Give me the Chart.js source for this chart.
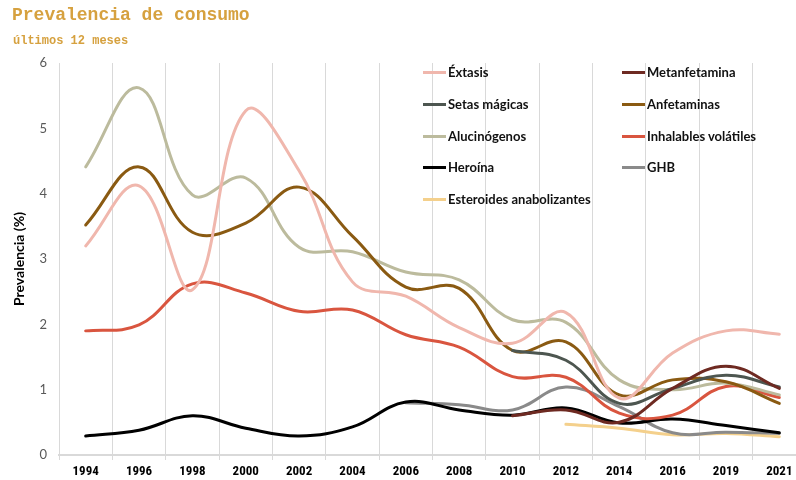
<!DOCTYPE html>
<html>
<head>
<meta charset="utf-8">
<script src="https://cdn.jsdelivr.net/npm/chart.js@4.4.1/dist/chart.umd.min.js"></script>
<style>
  html, body { margin: 0; padding: 0; background: #ffffff; overflow: hidden; width: 796px; height: 480px; }
  #wrap { position: relative; width: 796px; height: 480px; overflow: hidden; }
  canvas { position: absolute; left: 0; top: 0; }
  #title { position: absolute; left: 12px; top: 5px; font-family: 'Liberation Mono', 'DejaVu Sans Mono', monospace; font-weight: bold; font-size: 18px; color: #d6a13f; white-space: nowrap; }
  #subtitle { position: absolute; left: 13px; top: 34px; font-family: 'Liberation Mono', 'DejaVu Sans Mono', monospace; font-weight: bold; font-size: 12px; color: #d6a13f; white-space: nowrap; }
  .lg { position: absolute; height: 16px; font-family: Lato, 'Open Sans', sans-serif; font-weight: bold; font-size: 13px; color: #111; white-space: nowrap; line-height: 16px; }
  .lg span.sw { display: inline-block; width: 23px; height: 3px; vertical-align: middle; margin-right: 2px; position: relative; top: -1px; }
</style>
</head>
<body>
<div id="wrap">
  <canvas id="c" width="806" height="480"></canvas>
  <div id="title">Prevalencia de consumo</div>
  <div id="subtitle">últimos 12 meses</div>
</div>
<script>
const years = ['1994','1996','1998','2000','2002','2004','2006','2008','2010','2012','2014','2016','2019','2021'];
const yTicks = [0, 1, 2, 3, 4, 5, 6];

const extasis      = [3.2, 4.12, 2.53, 5.27, 4.35, 2.65, 2.43, 1.95, 1.71, 2.18, 0.87, 1.56, 1.9, 1.85];
const metanfetamina= [null, null, null, null, null, null, null, null, 0.6, 0.69, 0.5, 1.02, 1.36, 1.02];
const setas        = [null, null, null, null, null, null, null, null, 1.6, 1.45, 0.79, 1.02, 1.22, 1.04];
const anfetaminas  = [3.52, 4.41, 3.41, 3.55, 4.1, 3.35, 2.57, 2.55, 1.6, 1.73, 0.92, 1.15, 1.12, 0.79];
const alucinogenos = [4.41, 5.62, 3.98, 4.24, 3.18, 3.11, 2.8, 2.68, 2.07, 2.03, 1.15, 1.0, 1.1, 0.92];
const inhalables   = [1.9, 1.99, 2.62, 2.48, 2.2, 2.22, 1.84, 1.65, 1.2, 1.19, 0.64, 0.61, 1.05, 0.88];
const heroina      = [0.29, 0.38, 0.6, 0.41, 0.29, 0.43, 0.81, 0.69, 0.61, 0.72, 0.49, 0.55, 0.45, 0.34];
const ghb          = [null, null, null, null, null, null, 0.8, 0.77, 0.69, 1.04, 0.74, 0.34, 0.35, 0.33];
const esteroides   = [null, null, null, null, null, null, null, null, null, 0.47, 0.41, 0.31, 0.33, 0.28];

const seriesNames  = ['Éxtasis','Metanfetamina','Setas mágicas','Anfetaminas','Alucinógenos','Inhalables volátiles','Heroína','GHB','Esteroides anabolizantes'];
const seriesData   = [extasis, metanfetamina, setas, anfetaminas, alucinogenos, inhalables, heroina, ghb, esteroides];
const seriesColors = ['#f0b7ad','#6e2a22','#4d5650','#8a5a12','#bcbb9d','#d9553f','#000000','#8a8a8a','#f4d08c'];

const datasets = seriesNames.map((n, i) => ({
  label: n,
  data: seriesData[i],
  borderColor: seriesColors[i],
  backgroundColor: seriesColors[i],
  borderWidth: 3,
  pointRadius: 0,
  pointHoverRadius: 0,
  tension: 0.4,
  fill: false,
  spanGaps: false,
  borderCapStyle: 'round'
}));

new Chart(document.getElementById('c'), {
  type: 'line',
  data: { labels: years, datasets },
  options: {
    responsive: false,
    animation: false,
    events: [],
    layout: { padding: { left: 0, top: 63, right: 0, bottom: 0 } },
    plugins: { legend: { display: false }, tooltip: { enabled: false }, title: { display: false } },
    scales: {
      x: {
        type: 'category',
        offset: true,
        grid: { display: true, offset: true, color: '#d9d9d9', lineWidth: 1, drawTicks: true, tickLength: 5 },
        border: { display: true, color: '#d9d9d9', width: 2 },
        ticks: { color: '#000', font: { family: "'Liberation Sans Narrow', 'Roboto Condensed', Roboto, sans-serif", weight: 'bold', size: 13 }, padding: 4, maxRotation: 0, autoSkip: false },
        afterFit: (s) => { s.height = 25; }
      },
      y: {
        min: 0, max: 6,
        afterBuildTicks: (s) => { s.ticks = yTicks.map(v => ({ value: v })); },
        grid: { display: false },
        border: { display: true, color: '#d9d9d9', width: 1 },
        ticks: { color: '#595959', font: { family: "Lato, 'Open Sans', sans-serif", size: 13 }, padding: 4 },
        title: { display: true, text: 'Prevalencia (%)', color: '#000', font: { family: "Lato, 'Open Sans', sans-serif", weight: 'bold', size: 14 }, padding: { top: 11, bottom: 0 } },
        afterFit: (s) => { s.width = 59; }
      }
    }
  }
});

// HTML legend (two columns)
const wrap = document.getElementById('wrap');
const cols = [423, 622];
const rowY = [64, 96, 128, 159, 191];
seriesNames.forEach((n, i) => {
  const d = document.createElement('div');
  d.className = 'lg';
  d.style.left = cols[i % 2] + 'px';
  d.style.top = rowY[Math.floor(i / 2)] + 'px';
  d.innerHTML = '<span class="sw" style="background:' + seriesColors[i] + '"></span>' + n;
  wrap.appendChild(d);
});
</script>
</body>
</html>
